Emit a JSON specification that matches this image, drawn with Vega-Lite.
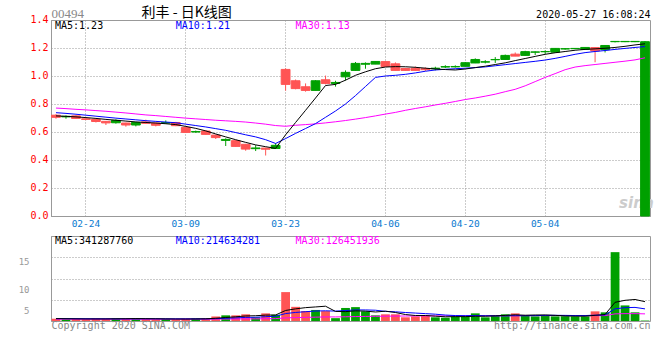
{
  "$schema": "https://vega.github.io/schema/vega-lite/v6.json",
  "padding": {"left": 17, "top": 4, "right": 0, "bottom": 0},
  "background": "white",
  "bounds": "flush",
  "spacing": 20,
  "config": {
    "view": {"stroke": "#999999", "strokeWidth": 1},
    "font": "DejaVu Sans Mono"
  },
  "datasets": {
    "k": [
      {"d":"2020-02-19","o":0.705,"h":0.727,"l":0.695,"c":0.72,"v":40,"m5":0.715,"m10":0.738,"m30":0.771,"vm5":42,"vm10":42,"vm30":32},
      {"d":"2020-02-20","o":0.712,"h":0.718,"l":0.695,"c":0.708,"v":30,"m5":0.712,"m10":0.733,"m30":0.767,"vm5":40,"vm10":42,"vm30":32},
      {"d":"2020-02-21","o":0.697,"h":0.72,"l":0.693,"c":0.715,"v":35,"m5":0.708,"m10":0.727,"m30":0.762,"vm5":38,"vm10":41,"vm30":32},
      {"d":"2020-02-24","o":0.69,"h":0.698,"l":0.685,"c":0.694,"v":30,"m5":0.703,"m10":0.72,"m30":0.758,"vm5":36,"vm10":40,"vm30":32},
      {"d":"2020-02-25","o":0.675,"h":0.692,"l":0.668,"c":0.69,"v":45,"m5":0.697,"m10":0.713,"m30":0.753,"vm5":36,"vm10":39,"vm30":32},
      {"d":"2020-02-26","o":0.665,"h":0.678,"l":0.65,"c":0.676,"v":40,"m5":0.69,"m10":0.706,"m30":0.748,"vm5":36,"vm10":39,"vm30":32},
      {"d":"2020-02-27","o":0.683,"h":0.69,"l":0.66,"c":0.666,"v":45,"m5":0.684,"m10":0.699,"m30":0.742,"vm5":39,"vm10":38,"vm30":32},
      {"d":"2020-02-28","o":0.65,"h":0.666,"l":0.638,"c":0.664,"v":40,"m5":0.678,"m10":0.693,"m30":0.736,"vm5":40,"vm10":38,"vm30":32},
      {"d":"2020-03-02","o":0.668,"h":0.672,"l":0.64,"c":0.65,"v":45,"m5":0.672,"m10":0.687,"m30":0.729,"vm5":43,"vm10":39,"vm30":32},
      {"d":"2020-03-03","o":0.662,"h":0.688,"l":0.658,"c":0.672,"v":35,"m5":0.668,"m10":0.681,"m30":0.722,"vm5":41,"vm10":39,"vm30":32},
      {"d":"2020-03-04","o":0.648,"h":0.666,"l":0.64,"c":0.664,"v":30,"m5":0.664,"m10":0.676,"m30":0.717,"vm5":39,"vm10":39,"vm30":32},
      {"d":"2020-03-05","o":0.667,"h":0.683,"l":0.66,"c":0.664,"v":35,"m5":0.659,"m10":0.671,"m30":0.711,"vm5":37,"vm10":38,"vm30":32},
      {"d":"2020-03-06","o":0.645,"h":0.672,"l":0.642,"c":0.668,"v":30,"m5":0.653,"m10":0.666,"m30":0.705,"vm5":35,"vm10":38,"vm30":32},
      {"d":"2020-03-09","o":0.597,"h":0.636,"l":0.595,"c":0.633,"v":40,"m5":0.64,"m10":0.656,"m30":0.699,"vm5":34,"vm10":38,"vm30":33},
      {"d":"2020-03-10","o":0.603,"h":0.61,"l":0.595,"c":0.6,"v":45,"m5":0.626,"m10":0.646,"m30":0.694,"vm5":36,"vm10":38,"vm30":33},
      {"d":"2020-03-11","o":0.583,"h":0.61,"l":0.58,"c":0.607,"v":45,"m5":0.608,"m10":0.636,"m30":0.689,"vm5":39,"vm10":37,"vm30":33},
      {"d":"2020-03-12","o":0.56,"h":0.58,"l":0.55,"c":0.578,"v":80,"m5":0.586,"m10":0.624,"m30":0.684,"vm5":48,"vm10":41,"vm30":34},
      {"d":"2020-03-13","o":0.547,"h":0.555,"l":0.5,"c":0.54,"v":100,"m5":0.565,"m10":0.612,"m30":0.68,"vm5":62,"vm10":48,"vm30":35},
      {"d":"2020-03-16","o":0.497,"h":0.542,"l":0.495,"c":0.538,"v":100,"m5":0.545,"m10":0.596,"m30":0.676,"vm5":74,"vm10":55,"vm30":36},
      {"d":"2020-03-17","o":0.478,"h":0.515,"l":0.466,"c":0.512,"v":118,"m5":0.526,"m10":0.58,"m30":0.671,"vm5":89,"vm10":63,"vm30":37},
      {"d":"2020-03-18","o":0.486,"h":0.506,"l":0.464,"c":0.481,"v":65,"m5":0.508,"m10":0.565,"m30":0.664,"vm5":93,"vm10":66,"vm30":38},
      {"d":"2020-03-19","o":0.477,"h":0.487,"l":0.432,"c":0.485,"v":135,"m5":0.495,"m10":0.545,"m30":0.656,"vm5":104,"vm10":76,"vm30":40},
      {"d":"2020-03-20","o":0.505,"h":0.52,"l":0.48,"c":0.482,"v":110,"m5":0.483,"m10":0.518,"m30":0.646,"vm5":106,"vm10":84,"vm30":42},
      {"d":"2020-03-23","o":0.94,"h":1.055,"l":0.895,"c":1.047,"v":510,"m5":0.58,"m10":0.553,"m30":0.641,"vm5":186,"vm10":131,"vm30":55},
      {"d":"2020-03-24","o":0.91,"h":0.975,"l":0.905,"c":0.966,"v":250,"m5":0.668,"m10":0.59,"m30":0.648,"vm5":214,"vm10":151,"vm30":60},
      {"d":"2020-03-25","o":0.897,"h":0.947,"l":0.888,"c":0.923,"v":175,"m5":0.755,"m10":0.625,"m30":0.653,"vm5":236,"vm10":164,"vm30":64},
      {"d":"2020-03-26","o":0.966,"h":0.97,"l":0.897,"c":0.897,"v":195,"m5":0.843,"m10":0.66,"m30":0.658,"vm5":248,"vm10":176,"vm30":68},
      {"d":"2020-03-27","o":0.947,"h":1.003,"l":0.94,"c":0.973,"v":175,"m5":0.932,"m10":0.705,"m30":0.665,"vm5":261,"vm10":180,"vm30":72},
      {"d":"2020-03-30","o":0.954,"h":0.966,"l":0.924,"c":0.947,"v":50,"m5":0.94,"m10":0.75,"m30":0.673,"vm5":169,"vm10":175,"vm30":72},
      {"d":"2020-03-31","o":1.026,"h":1.04,"l":0.968,"c":0.994,"v":230,"m5":0.97,"m10":0.8,"m30":0.682,"vm5":165,"vm10":185,"vm30":75},
      {"d":"2020-04-01","o":1.09,"h":1.1,"l":1.038,"c":1.04,"v":245,"m5":1.005,"m10":0.86,"m30":0.692,"vm5":179,"vm10":195,"vm30":78},
      {"d":"2020-04-02","o":1.09,"h":1.097,"l":1.052,"c":1.084,"v":170,"m5":1.03,"m10":0.925,"m30":0.703,"vm5":174,"vm10":195,"vm30":81},
      {"d":"2020-04-03","o":1.104,"h":1.105,"l":1.085,"c":1.085,"v":100,"m5":1.052,"m10":0.99,"m30":0.715,"vm5":159,"vm10":190,"vm30":83},
      {"d":"2020-04-06","o":1.068,"h":1.106,"l":1.068,"c":1.103,"v":118,"m5":1.064,"m10":1.0,"m30":0.728,"vm5":173,"vm10":170,"vm30":85},
      {"d":"2020-04-07","o":1.04,"h":1.097,"l":1.04,"c":1.087,"v":118,"m5":1.067,"m10":1.005,"m30":0.74,"vm5":150,"vm10":162,"vm30":87},
      {"d":"2020-04-08","o":1.04,"h":1.058,"l":1.038,"c":1.054,"v":65,"m5":1.066,"m10":1.012,"m30":0.755,"vm5":114,"vm10":150,"vm30":88},
      {"d":"2020-04-09","o":1.04,"h":1.068,"l":1.04,"c":1.055,"v":82,"m5":1.062,"m10":1.022,"m30":0.768,"vm5":97,"vm10":140,"vm30":89},
      {"d":"2020-04-14","o":1.045,"h":1.062,"l":1.036,"c":1.052,"v":100,"m5":1.056,"m10":1.034,"m30":0.78,"vm5":97,"vm10":130,"vm30":90},
      {"d":"2020-04-15","o":1.056,"h":1.066,"l":1.04,"c":1.052,"v":65,"m5":1.05,"m10":1.043,"m30":0.793,"vm5":86,"vm10":120,"vm30":90},
      {"d":"2020-04-16","o":1.067,"h":1.077,"l":1.057,"c":1.064,"v":58,"m5":1.046,"m10":1.048,"m30":0.805,"vm5":74,"vm10":105,"vm30":90},
      {"d":"2020-04-17","o":1.068,"h":1.076,"l":1.06,"c":1.065,"v":82,"m5":1.043,"m10":1.052,"m30":0.818,"vm5":77,"vm10":96,"vm30":90},
      {"d":"2020-04-20","o":1.095,"h":1.098,"l":1.069,"c":1.069,"v":82,"m5":1.05,"m10":1.056,"m30":0.832,"vm5":77,"vm10":94,"vm30":90},
      {"d":"2020-04-21","o":1.118,"h":1.126,"l":1.092,"c":1.093,"v":135,"m5":1.06,"m10":1.06,"m30":0.843,"vm5":84,"vm10":96,"vm30":92},
      {"d":"2020-04-22","o":1.102,"h":1.113,"l":1.09,"c":1.099,"v":65,"m5":1.07,"m10":1.065,"m30":0.856,"vm5":84,"vm10":93,"vm30":92},
      {"d":"2020-04-23","o":1.118,"h":1.135,"l":1.093,"c":1.116,"v":93,"m5":1.082,"m10":1.073,"m30":0.87,"vm5":91,"vm10":92,"vm30":92},
      {"d":"2020-04-24","o":1.147,"h":1.153,"l":1.117,"c":1.118,"v":118,"m5":1.094,"m10":1.081,"m30":0.888,"vm5":99,"vm10":92,"vm30":92},
      {"d":"2020-04-27","o":1.142,"h":1.168,"l":1.142,"c":1.156,"v":135,"m5":1.11,"m10":1.089,"m30":0.905,"vm5":109,"vm10":93,"vm30":94},
      {"d":"2020-04-28","o":1.174,"h":1.18,"l":1.145,"c":1.147,"v":100,"m5":1.125,"m10":1.097,"m30":0.93,"vm5":102,"vm10":93,"vm30":95},
      {"d":"2020-04-29","o":1.172,"h":1.176,"l":1.15,"c":1.17,"v":82,"m5":1.14,"m10":1.105,"m30":0.96,"vm5":106,"vm10":95,"vm30":95},
      {"d":"2020-05-04","o":1.175,"h":1.183,"l":1.158,"c":1.173,"v":100,"m5":1.155,"m10":1.114,"m30":0.99,"vm5":107,"vm10":99,"vm30":95},
      {"d":"2020-05-05","o":1.197,"h":1.198,"l":1.17,"c":1.17,"v":82,"m5":1.166,"m10":1.126,"m30":1.017,"vm5":100,"vm10":100,"vm30":96},
      {"d":"2020-05-06","o":1.195,"h":1.2,"l":1.188,"c":1.193,"v":82,"m5":1.175,"m10":1.14,"m30":1.045,"vm5":89,"vm10":99,"vm30":96},
      {"d":"2020-05-07","o":1.197,"h":1.2,"l":1.192,"c":1.195,"v":82,"m5":1.184,"m10":1.155,"m30":1.064,"vm5":86,"vm10":96,"vm30":96},
      {"d":"2020-05-08","o":1.204,"h":1.205,"l":1.19,"c":1.19,"v":82,"m5":1.19,"m10":1.167,"m30":1.074,"vm5":86,"vm10":96,"vm30":94},
      {"d":"2020-05-11","o":1.179,"h":1.204,"l":1.098,"c":1.203,"v":170,"m5":1.194,"m10":1.175,"m30":1.082,"vm5":100,"vm10":103,"vm30":95},
      {"d":"2020-05-12","o":1.218,"h":1.22,"l":1.168,"c":1.188,"v":153,"m5":1.198,"m10":1.182,"m30":1.09,"vm5":114,"vm10":107,"vm30":95},
      {"d":"2020-05-13","o":1.247,"h":1.25,"l":1.24,"c":1.245,"v":1215,"m5":1.204,"m10":1.19,"m30":1.098,"vm5":330,"vm10":215,"vm30":126},
      {"d":"2020-05-14","o":1.247,"h":1.25,"l":1.242,"c":1.245,"v":275,"m5":1.212,"m10":1.197,"m30":1.106,"vm5":365,"vm10":235,"vm30":130},
      {"d":"2020-05-15","o":1.247,"h":1.249,"l":1.242,"c":1.245,"v":153,"m5":1.222,"m10":1.204,"m30":1.115,"vm5":380,"vm10":240,"vm30":130},
      {"d":"2020-05-18","o":1.245,"h":1.25,"l":0,"c":0,"v":8,"m5":1.23,"m10":1.21,"m30":1.13,"vm5":341,"vm10":214,"vm30":126}
    ]
  },
  "vconcat": [
    {
      "width": 599,
      "height": 196,
      "data": {"name": "k"},
      "resolve": {"axis": {"x": "independent", "y": "independent"}},
      "layer": [
        {
          "mark": {"type": "rule", "strokeWidth": 1},
          "encoding": {
            "x": {"field": "d", "type": "ordinal", "scale": {"paddingInner": 0.12, "paddingOuter": 0.06},
              "axis": {"orient": "bottom", "values": ["2020-02-24","2020-03-09","2020-03-23","2020-04-06","2020-04-20","2020-05-04"],
                "labelExpr": "slice(datum.value, 5)", "title": null, "grid": true, "gridColor": "#999999", "gridDash": [1, 2],
                "ticks": false, "tickSize": 0, "domainColor": "#999999", "labelColor": "#0a7ad0", "labelFont": "DejaVu Sans Mono",
                "labelFontSize": 9.5, "labelPadding": 2, "labelAngle": 0, "bandPosition": 0.5}},
            "y": {"field": "l", "type": "quantitative", "scale": {"domain": [0, 1.4], "nice": false},
              "axis": {"orient": "left", "values": [0, 0.2, 0.4, 0.6, 0.8, 1.0, 1.2, 1.4], "format": ".1f", "grid": true,
                "gridColor": "#999999", "gridDash": [1, 2], "ticks": false, "tickSize": 0, "domainColor": "#999999",
                "labelColor": "#ff0000", "labelFont": "DejaVu Sans Mono", "labelFontSize": 10, "labelPadding": 3, "labelOffset": -1,
                "title": "00494", "titleAngle": 0, "titleX": 0, "titleY": -2.5, "titleAlign": "left", "titleBaseline": "alphabetic",
                "titleFont": "Liberation Serif", "titleFontSize": 13, "titleFontWeight": "normal", "titleColor": "#888888"}},
            "y2": {"field": "h"},
            "stroke": {"condition": {"test": "datum.c > datum.o", "value": "#ff5454"}, "value": "#00a000"}
          }
        },
        {
          "data": {"values": [{}]},
          "mark": {"type": "text", "text": "sina", "align": "left", "baseline": "middle", "dx": 4, "font": "DejaVu Sans", "fontStyle": "italic", "fontWeight": "bold", "fontSize": 15, "color": "#cccccc"},
          "encoding": {"x": {"datum": "2020-05-13", "type": "ordinal", "axis": null}, "y": {"datum": 0.09, "type": "quantitative", "axis": null}}
        },
        {
          "mark": {"type": "bar", "strokeWidth": 1},
          "encoding": {
            "x": {"field": "d", "type": "ordinal",
              "axis": {"orient": "top", "labels": false, "ticks": false, "tickSize": 0, "domain": false, "grid": false,
                "title": "利丰 - 日K线图", "titleX": 90, "titleY": -4, "titleAlign": "left", "titleBaseline": "alphabetic",
                "titleFont": "Noto Sans CJK SC", "titleFontSize": 14, "titleFontWeight": "normal", "titleColor": "#000000"}},
            "y": {"field": "o", "type": "quantitative",
              "axis": {"orient": "right", "labels": false, "ticks": false, "tickSize": 0, "domain": false, "grid": false,
                "title": "2020-05-27 16:08:24", "titleAngle": 0, "titleX": 0, "titleY": -2.5, "titleAlign": "right",
                "titleBaseline": "alphabetic", "titleFont": "DejaVu Sans Mono", "titleFontSize": 10, "titleFontWeight": "normal",
                "titleColor": "#000000"}},
            "y2": {"field": "c"},
            "fill": {"condition": {"test": "datum.c > datum.o", "value": "#ff5454"}, "value": "#00a000"},
            "stroke": {"condition": {"test": "datum.c > datum.o", "value": "#ff5454"}, "value": "#00a000"}
          }
        },
        {
          "mark": {"type": "line", "color": "#ff00ff", "strokeWidth": 1},
          "encoding": {"x": {"field": "d", "type": "ordinal", "axis": null}, "y": {"field": "m30", "type": "quantitative", "axis": null}}
        },
        {
          "mark": {"type": "line", "color": "#0000ff", "strokeWidth": 1},
          "encoding": {"x": {"field": "d", "type": "ordinal", "axis": null}, "y": {"field": "m10", "type": "quantitative", "axis": null}}
        },
        {
          "mark": {"type": "line", "color": "#000000", "strokeWidth": 1},
          "encoding": {"x": {"field": "d", "type": "ordinal", "axis": null}, "y": {"field": "m5", "type": "quantitative", "axis": null}}
        },
        {
          "data": {"values": [{}]},
          "mark": {"type": "text", "text": "MA5:1.23", "align": "left", "baseline": "middle", "dx": -1, "font": "DejaVu Sans Mono", "fontSize": 10, "color": "#000000"},
          "encoding": {"x": {"datum": "2020-02-19", "type": "ordinal", "axis": null}, "y": {"datum": 1.357, "type": "quantitative", "axis": null}}
        },
        {
          "data": {"values": [{}]},
          "mark": {"type": "text", "text": "MA10:1.21", "align": "left", "baseline": "middle", "font": "DejaVu Sans Mono", "fontSize": 10, "color": "#0000ff"},
          "encoding": {"x": {"datum": "2020-03-06", "type": "ordinal", "axis": null}, "y": {"datum": 1.357, "type": "quantitative", "axis": null}}
        },
        {
          "data": {"values": [{}]},
          "mark": {"type": "text", "text": "MA30:1.13", "align": "left", "baseline": "middle", "font": "DejaVu Sans Mono", "fontSize": 10, "color": "#ff00ff"},
          "encoding": {"x": {"datum": "2020-03-24", "type": "ordinal", "axis": null}, "y": {"datum": 1.357, "type": "quantitative", "axis": null}}
        }
      ]
    },
    {
      "width": 599,
      "height": 85,
      "data": {"name": "k"},
      "resolve": {"axis": {"y": "independent"}},
      "layer": [
        {
          "mark": {"type": "bar"},
          "encoding": {
            "x": {"field": "d", "type": "ordinal", "scale": {"paddingInner": 0.12, "paddingOuter": 0.06},
              "axis": {"orient": "bottom", "values": ["2020-02-24","2020-03-09","2020-03-23","2020-04-06","2020-04-20","2020-05-04"],
                "labels": false, "ticks": false, "tickSize": 0, "title": null, "grid": true, "gridColor": "#999999", "gridDash": [1, 2],
                "domainColor": "#999999", "bandPosition": 0.5}},
            "y": {"field": "v", "type": "quantitative", "scale": {"domain": [0, 1500], "nice": false},
              "axis": {"orient": "left", "values": [375, 750, 1125],
                "labelExpr": "datum.value > 1000 ? '15' : datum.value > 500 ? '10' : '5'",
                "labelOffset": {"condition": {"test": "datum.value > 1000", "value": 4}, "value": 11},
                "grid": true, "gridColor": "#999999", "gridDash": [1, 2], "ticks": false, "tickSize": 0, "domainColor": "#999999",
                "labelColor": "#999999", "labelFont": "DejaVu Sans Mono", "labelFontSize": 9, "labelPadding": 22,
                "title": "Copyright 2020 SINA.COM", "titleAngle": 0, "titleX": 0, "titleY": 92.5, "titleAlign": "left",
                "titleBaseline": "alphabetic", "titleFont": "DejaVu Sans Mono", "titleFontSize": 10, "titleFontWeight": "normal",
                "titleColor": "#888888"}},
            "fill": {"condition": {"test": "datum.c > datum.o", "value": "#ff5454"}, "value": "#00a000"}
          }
        },
        {
          "mark": {"type": "line", "color": "#ff00ff", "strokeWidth": 1},
          "encoding": {"x": {"field": "d", "type": "ordinal", "axis": null},
            "y": {"field": "vm30", "type": "quantitative",
              "axis": {"orient": "right", "labels": false, "ticks": false, "tickSize": 0, "domain": false, "grid": false,
                "title": "http://finance.sina.com.cn", "titleAngle": 0, "titleX": 0, "titleY": 92.5, "titleAlign": "right",
                "titleBaseline": "alphabetic", "titleFont": "DejaVu Sans Mono", "titleFontSize": 10, "titleFontWeight": "normal",
                "titleColor": "#888888"}}}
        },
        {
          "mark": {"type": "line", "color": "#0000ff", "strokeWidth": 1},
          "encoding": {"x": {"field": "d", "type": "ordinal", "axis": null}, "y": {"field": "vm10", "type": "quantitative", "axis": null}}
        },
        {
          "mark": {"type": "line", "color": "#000000", "strokeWidth": 1},
          "encoding": {"x": {"field": "d", "type": "ordinal", "axis": null}, "y": {"field": "vm5", "type": "quantitative", "axis": null}}
        },
        {
          "data": {"values": [{}]},
          "mark": {"type": "text", "text": "MA5:341287760", "align": "left", "baseline": "middle", "dx": -1, "font": "DejaVu Sans Mono", "fontSize": 10, "color": "#000000"},
          "encoding": {"x": {"datum": "2020-02-19", "type": "ordinal", "axis": null}, "y": {"datum": 1412, "type": "quantitative", "axis": null}}
        },
        {
          "data": {"values": [{}]},
          "mark": {"type": "text", "text": "MA10:214634281", "align": "left", "baseline": "middle", "font": "DejaVu Sans Mono", "fontSize": 10, "color": "#0000ff"},
          "encoding": {"x": {"datum": "2020-03-06", "type": "ordinal", "axis": null}, "y": {"datum": 1412, "type": "quantitative", "axis": null}}
        },
        {
          "data": {"values": [{}]},
          "mark": {"type": "text", "text": "MA30:126451936", "align": "left", "baseline": "middle", "font": "DejaVu Sans Mono", "fontSize": 10, "color": "#ff00ff"},
          "encoding": {"x": {"datum": "2020-03-24", "type": "ordinal", "axis": null}, "y": {"datum": 1412, "type": "quantitative", "axis": null}}
        }
      ]
    }
  ]
}
